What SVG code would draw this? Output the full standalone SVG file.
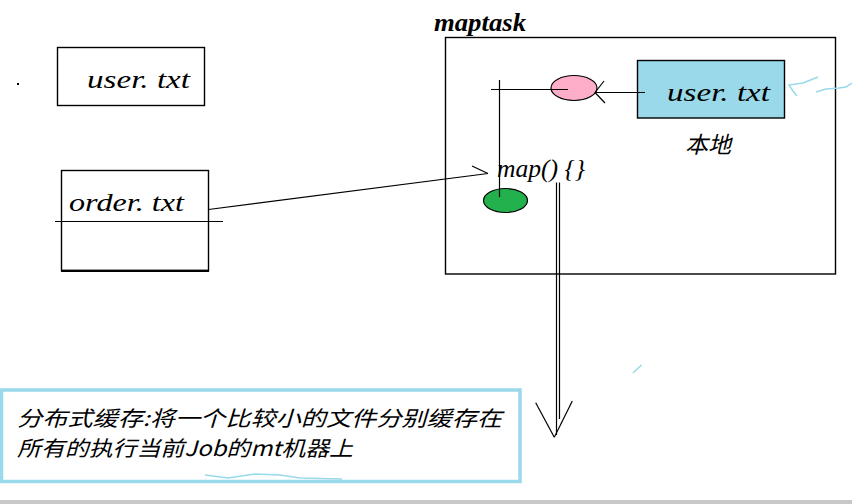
<svg xmlns="http://www.w3.org/2000/svg" width="852" height="504" viewBox="0 0 852 504">
  <style>
    .box { fill: #ffffff; stroke: #000; stroke-width: 1.4; }
    .lat { font-family: "Liberation Serif", "DejaVu Serif", serif; font-style: italic; font-size: 25px; fill: #000; }
    .cjk { font-family: "Noto Sans CJK SC", "Noto Sans CJK JP", sans-serif; font-style: italic; fill: #000; }
    .ln { stroke: #000; stroke-width: 1.2; fill: none; }
    .sq { stroke: #99d9ea; stroke-width: 1.5; fill: none; }
  </style>
  <rect x="0" y="0" width="852" height="504" fill="#ffffff"/>

  <g id="dot"><rect x="17" y="83" width="2" height="2" fill="#000"/></g>

  <g id="user-txt-left">
    <rect class="box" x="57.5" y="47.5" width="147" height="58"/>
    <text class="lat" x="87" y="87.5" textLength="103" lengthAdjust="spacingAndGlyphs">user. txt</text>
  </g>

  <g id="order-txt">
    <rect class="box" x="61.5" y="170.5" width="147" height="100"/>
    <line x1="61" y1="270.8" x2="209" y2="270.8" stroke="#000" stroke-width="2.2"/>
    <line class="ln" x1="55" y1="221.5" x2="223" y2="221.5"/>
    <text class="lat" x="69" y="211" textLength="115" lengthAdjust="spacingAndGlyphs">order. txt</text>
  </g>

  <g id="maptask">
    <text class="lat" x="434" y="31" font-weight="bold" textLength="92" lengthAdjust="spacingAndGlyphs">maptask</text>
    <rect class="box" x="445.5" y="37.5" width="390" height="236.5"/>
  </g>

  <g id="user-txt-local">
    <rect x="637.5" y="60.5" width="147" height="57.5" fill="#99d9ea" stroke="#000" stroke-width="1.4"/>
    <text class="lat" x="667" y="101" textLength="103" lengthAdjust="spacingAndGlyphs">user. txt</text>
    <text class="cjk" x="685" y="153" font-size="23" textLength="46" lengthAdjust="spacingAndGlyphs">本地</text>
  </g>

  <g id="pink-node">
    <ellipse cx="574" cy="88" rx="23" ry="12.5" fill="#ffaec9" stroke="#000" stroke-width="1.2"/>
  </g>

  <g id="green-node">
    <ellipse cx="505.5" cy="200.5" rx="22" ry="12" fill="#22b14c" stroke="#000" stroke-width="1.2"/>
  </g>

  <g id="map-func">
    <text class="lat" x="497" y="177" textLength="88" lengthAdjust="spacingAndGlyphs">map() {}</text>
  </g>

  <g id="connectors">
    <line class="ln" x1="208.5" y1="209.5" x2="488" y2="173.5"/>
    <line class="ln" x1="472" y1="166" x2="488" y2="173.5"/>
    <line class="ln" x1="645" y1="92.5" x2="595" y2="92.5"/>
    <line class="ln" x1="604" y1="81" x2="595" y2="92.5"/>
    <line class="ln" x1="605" y1="103" x2="595" y2="92.5"/>
    <line class="ln" x1="568" y1="89.5" x2="491" y2="89.5"/>
    <line class="ln" x1="499.5" y1="80" x2="499.5" y2="197"/>
    <line class="ln" x1="556.5" y1="182.5" x2="556.5" y2="435"/>
    <line class="ln" x1="559.5" y1="182.5" x2="559.5" y2="419"/>
    <line class="ln" x1="535.7" y1="402.7" x2="554.3" y2="437.3"/>
    <line class="ln" x1="572.3" y1="401" x2="554.3" y2="437.3"/>
  </g>

  <g id="note">
    <rect x="1.5" y="390" width="518.5" height="91.5" fill="#ffffff" stroke="#99d9ea" stroke-width="3.5"/>
    <text class="cjk" x="17" y="426" font-size="21" textLength="485" lengthAdjust="spacingAndGlyphs">分布式缓存:将一个比较小的文件分别缓存在</text>
    <text class="cjk" x="17" y="456" font-size="21" textLength="336" lengthAdjust="spacingAndGlyphs">所有的执行当前Job的mt机器上</text>
    <path class="sq" d="M205 475 L228 478 L255 474 L280 475 L300 478 L342 479"/>
  </g>

  <g id="scribbles">
    <path class="sq" d="M818 77 L803 83 L789 85 L793 91 L797 96"/>
    <path class="sq" d="M816 92 L826 89 L839 88 L846 87 L852 83"/>
    <path class="sq" d="M633 373 L641.5 365"/>
  </g>

  <rect x="0" y="500" width="852" height="4" fill="#c8c8c8"/>
</svg>
